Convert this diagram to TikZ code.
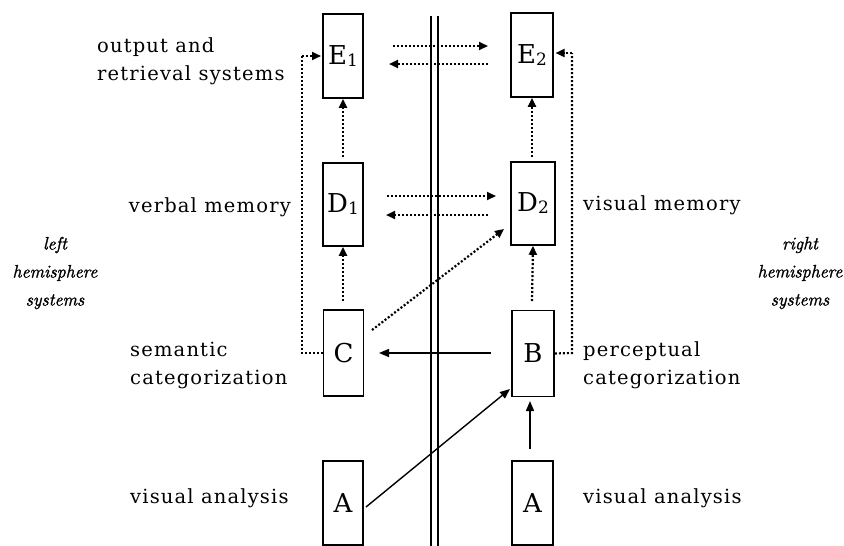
\documentclass[tikz,border=0pt]{standalone}
\usepackage{fontspec}
\newfontfamily\djs{DejaVu Serif}
\newfontfamily\djsl[LetterSpace=6.0]{DejaVu Serif}
\newfontfamily\lmfb[FakeBold=1.6]{Latin Modern Roman}
\usetikzlibrary{arrows.meta}
\newcommand{\sbx}[1]{{\fontsize{17}{17}\selectfont\raisebox{-2pt}{#1}}}
\begin{document}
\begin{tikzpicture}[x=1pt,y=-1pt,
  box/.style={draw,line width=1.6pt,minimum width=40pt,minimum height=84pt,inner sep=0pt,font=\djs\fontsize{26}{30}\selectfont},
  dots/.style={line width=2.2pt,dash pattern=on 2pt off 2pt,-{Triangle[length=9pt,width=8pt]}},
  dotsplain/.style={line width=2.2pt,dash pattern=on 2pt off 2pt},
  solidarr/.style={line width=1.4pt,-{Triangle[length=10pt,width=8pt]}},
  lab/.style={font=\djsl\fontsize{19.5}{28}\selectfont,align=left,inner sep=0pt},
  side/.style={font=\lmfb\fontsize{18}{28}\selectfont\itshape,align=center,inner sep=0pt}]
\useasboundingbox (0,0) rectangle (844,546);
% boxes
\node[box] (E1) at (343,56) {E\sbx{1}};
\node[box,minimum width=42pt] (E2) at (532,55) {E\sbx{2}};
\node[box,minimum height=83pt] (D1) at (343,204.5) {D\sbx{1}};
\node[box,minimum width=44pt,minimum height=83pt] (D2) at (533,203.5) {D\sbx{2}};
\node[box,minimum height=86pt] (C) at (343.5,353) {C};
\node[box,minimum width=42pt,minimum height=86pt] (B) at (533,353.5) {B};
\node[box] (A1) at (343,503) {A};
\node[box,minimum width=41pt] (A2) at (532.5,503) {A};
% double midline
\coordinate (m1t) at (431,16); \coordinate (m1b) at (431,546);
\coordinate (m2t) at (438,16); \coordinate (m2b) at (438,546);
\draw[line width=1.7pt] (m1t) -- (m1b);
\draw[line width=1.7pt] (m2t) -- (m2b);
% E arrows
\coordinate (e1) at (393,46); \coordinate (e2) at (488,46);
\coordinate (e3) at (488,64); \coordinate (e4) at (389,64);
\draw[dots] (e1) -- (e2);
\draw[dots] (e3) -- (e4);
% D arrows
\coordinate (d1) at (387,196); \coordinate (d2) at (496,196);
\coordinate (d3) at (488,215); \coordinate (d4) at (386,215);
\draw[dots] (d1) -- (d2);
\draw[dots] (d3) -- (d4);
% verticals
\coordinate (cv) at (343,301); \coordinate (dv) at (343,157);
\coordinate (bv) at (532,301); \coordinate (d2v) at (532,157);
\draw[dots] (cv) -- (D1.south);
\draw[dots] (dv) -- (E1.south);
\draw[dots] (bv) -- (D2.south);
\draw[dots] (d2v) -- (E2.south);
% diagonal
\coordinate (cd) at (372,330); \coordinate (cd2) at (504,229);
\draw[dots] (cd) -- (cd2);
% loops
\draw[dotsplain] (C.west) -- (302,353) -- (302,56);
\draw[dots] (302,56) -- (321,56);
\draw[dotsplain] (B.east) -- (572,353) -- (572,53);
\draw[dots] (572,53) -- (555.5,53);
% solid arrows
\coordinate (bc1) at (491,353); \coordinate (bc2) at (379,353);
\draw[solidarr] (bc1) -- (bc2);
\coordinate (ab1) at (366,507); \coordinate (ab2) at (510,389);
\draw[solidarr] (ab1) -- (ab2);
\coordinate (aa1) at (530,449); \coordinate (aa2) at (530,401);
\draw[solidarr] (aa1) -- (aa2);
% labels
\node[lab,anchor=west] (l1) at (97,61) {output and\\retrieval systems};
\node[lab,anchor=east] (l2) at (291,207) {verbal memory};
\node[lab,anchor=west] (l3) at (130,365) {semantic\\categorization};
\node[lab,anchor=west] (l4) at (130,498) {visual analysis};
\node[lab,anchor=west] (r2) at (583,205) {visual memory};
\node[lab,anchor=west] (r3) at (583,365) {perceptual\\categorization};
\node[lab,anchor=west] (r4) at (583,498) {visual analysis};
\node[side] (ls) at (55,273) {left\\hemisphere\\systems};
\node[side] (rs) at (800,273) {right\\hemisphere\\systems};
\end{tikzpicture}
\end{document}
